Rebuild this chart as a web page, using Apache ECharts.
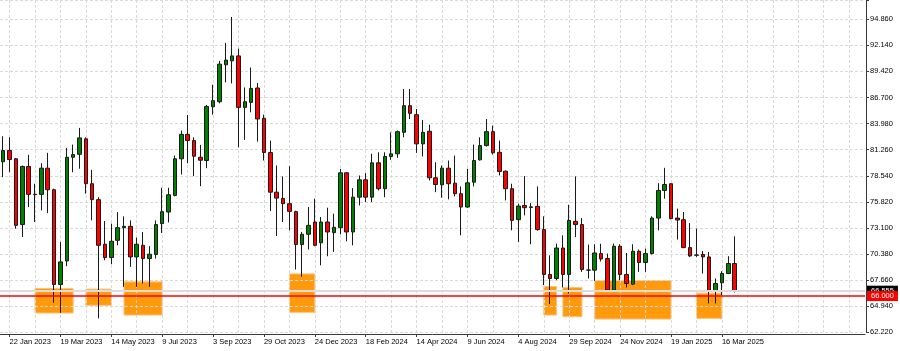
<!DOCTYPE html>
<html><head><meta charset="utf-8">
<script src="https://cdn.jsdelivr.net/npm/echarts@6/dist/echarts.min.js"></script>
<style>html,body{margin:0;padding:0;background:#fff}#c{width:900px;height:351px}</style>
</head><body><div id="c"></div>
<script>
// Weekly candles from 15 Jan 2023 to 30 Mar 2025, plus empty future weeks
const firstWeekUTC = Date.UTC(2023, 0, 15);
const weekCount = 136;
const monthNames = ['Jan','Feb','Mar','Apr','May','Jun','Jul','Aug','Sep','Oct','Nov','Dec'];

const opens = [
80.00,81.17,80.31,73.45,79.51,76.62,76.60,79.33,77.08,67.21,
69.66,80.47,80.78,82.39,77.71,76.05,71.40,70.01,71.81,73.13,
73.27,70.08,71.29,69.91,70.33,73.55,74.76,76.49,80.31,82.86,
82.21,80.47,80.13,85.74,86.26,90.11,90.52,91.04,85.67,86.19,
87.69,84.53,80.96,76.83,76.18,75.63,74.80,71.37,72.44,73.72,
71.55,73.72,72.61,73.13,78.85,72.68,76.31,78.12,76.31,79.89,
77.19,80.55,80.83,83.07,85.85,84.91,81.87,83.18,78.33,77.60,
79.33,77.77,76.67,75.28,77.87,80.20,81.69,83.14,80.99,79.02,
77.19,73.96,75.45,75.24,75.35,72.93,68.25,67.83,71.01,68.25,
73.79,73.45,68.72,68.70,70.43,69.91,66.62,71.19,68.25,67.24,
70.67,69.50,70.43,74.13,77.01,77.71,74.13,73.96,71.05,70.29,
70.33,70.08,66.51,67.38,68.35,69.39];
const closes = [
81.17,80.23,73.37,79.51,76.60,76.58,79.33,77.08,67.21,69.56,
80.47,80.75,82.49,77.71,76.05,71.29,70.01,71.71,73.13,73.27,
70.08,71.40,69.91,70.36,73.45,74.80,76.56,80.31,82.86,82.21,
80.58,80.16,85.77,86.37,90.18,90.60,91.04,85.67,86.26,87.65,
84.46,80.96,76.83,76.21,75.63,74.83,71.37,72.44,73.37,71.29,
73.72,72.68,73.17,78.85,72.68,76.31,78.12,76.31,79.89,77.19,
80.55,80.83,83.14,85.85,85.05,81.87,83.07,78.33,77.63,79.33,
77.71,76.67,75.28,77.81,80.13,81.69,83.14,80.93,78.99,77.19,
73.89,75.38,75.21,75.30,72.93,68.25,67.83,71.01,68.25,73.89,
73.45,68.77,68.70,70.49,69.87,66.62,71.19,68.25,67.31,70.67,
69.50,70.43,74.13,77.01,77.63,74.07,73.93,71.05,70.18,70.25,
70.08,66.51,67.31,68.35,69.39,66.555];
const lows = [
78.39,78.91,73.03,72.15,75.27,73.72,74.93,74.65,65.30,64.25,
69.11,78.91,79.27,76.67,73.89,63.67,69.74,69.32,71.29,66.96,
69.04,66.96,67.31,66.96,69.91,72.57,73.68,76.39,78.67,79.85,
78.50,77.46,79.33,84.91,86.09,88.27,88.17,81.51,82.28,85.15,
82.10,80.13,74.86,72.26,73.72,72.85,68.77,68.00,70.85,71.19,
69.21,70.15,70.60,72.44,71.71,71.29,75.45,75.80,75.80,77.01,
76.31,80.20,80.41,82.55,84.46,80.93,80.55,78.05,76.83,76.25,
76.08,76.39,72.33,75.20,77.43,80.13,81.59,80.75,78.57,75.97,
72.85,71.64,74.41,71.40,72.80,67.14,65.16,67.66,66.90,66.27,
72.15,68.52,67.83,67.58,69.60,66.44,66.55,67.66,66.90,67.14,
68.52,68.52,70.33,72.85,76.15,74.00,71.89,71.00,70.08,70.08,
68.35,65.23,65.23,66.10,68.28,66.37];
const highs = [
82.66,82.55,80.40,79.60,80.72,77.71,79.85,80.93,77.20,71.64,
81.45,81.79,83.53,82.55,79.16,76.31,73.82,73.55,74.75,74.31,
73.89,72.09,72.68,71.20,73.89,77.29,77.29,80.65,83.25,84.88,
82.55,81.76,85.92,88.03,90.52,92.40,95.10,91.80,87.75,89.83,
88.21,84.91,82.21,79.61,78.47,79.54,74.90,72.68,75.28,76.15,
74.24,75.21,74.59,79.26,78.91,77.25,78.57,78.81,80.83,80.99,
80.99,83.07,83.25,87.58,87.58,85.50,84.36,83.87,79.95,79.61,
80.13,80.65,77.43,79.27,81.79,82.55,84.46,83.77,82.21,79.09,
77.71,75.63,78.50,75.69,77.43,74.31,70.25,71.47,72.33,75.52,
78.47,74.13,71.37,71.40,71.45,70.43,71.47,71.40,70.49,71.40,
70.85,70.95,74.31,77.77,79.37,77.77,75.11,74.76,73.61,73.03,
70.70,70.60,67.83,68.59,70.15,72.23];

const dateLabels = ['22 Jan 2023','19 Mar 2023','14 May 2023','9 Jul 2023','3 Sep 2023','29 Oct 2023',
  '24 Dec 2023','18 Feb 2024','14 Apr 2024','9 Jun 2024','4 Aug 2024','29 Sep 2024','24 Nov 2024',
  '19 Jan 2025','16 Mar 2025'];
const priceTicks = [62.22,64.94,67.66,70.38,73.10,75.82,78.54,81.26,83.98,86.70,89.42,92.14,94.86];

// Orange zones
const zoneStart = ['19 Feb 2023','16 Apr 2023','28 May 2023','26 Nov 2023','1 Sep 2024','22 Sep 2024','27 Oct 2024','16 Feb 2025'];
const zoneEnd   = ['2 Apr 2023','14 May 2023','9 Jul 2023','24 Dec 2023','15 Sep 2024','13 Oct 2024','19 Jan 2025','16 Mar 2025'];
const zoneTop   = [66.79,66.72,67.48,68.31,67.00,66.90,67.62,66.30];
const zoneBottom= [64.23,65.03,64.02,64.30,64.02,63.84,63.60,63.67];

const levelPrice = 66.000;
const bidPrice = 66.555;

const categories = [];
for (let i = 0; i < weekCount; i++) {
  const d = new Date(firstWeekUTC + i * 7 * 86400000);
  categories.push(d.getUTCDate() + ' ' + monthNames[d.getUTCMonth()] + ' ' + d.getUTCFullYear());
}
const candleData = opens.map((o, i) => [o, closes[i], lows[i], highs[i]]);
const zoneData = zoneStart.map((s, i) => [
  {xAxis: s, yAxis: zoneTop[i]},
  {xAxis: zoneEnd[i], yAxis: zoneBottom[i]}
]);

const FONT = 'Liberation Sans';
const axisColor = '#3a3a3a';
const gridStyle = {color: '#d9d9d9', type: [3, 2], width: 1};

const chart = echarts.init(document.getElementById('c'), null, {renderer: 'canvas'});
chart.setOption({
  animation: false,
  backgroundColor: '#ffffff',
  grid: {left: 0, right: 35, top: -1, bottom: 18.7, containLabel: false},
  xAxis: {
    type: 'category', data: categories, boundaryGap: true, offset: 1.7, z: 1.5,
    axisLine: {show: true, lineStyle: {color: axisColor, width: 1}},
    axisTick: {show: true, alignWithLabel: true, length: 3, lineStyle: {color: axisColor},
      interval: (i, v) => dateLabels.indexOf(v) >= 0},
    axisLabel: {show: true, interval: (i, v) => dateLabels.indexOf(v) >= 0, align: 'left',
      fontSize: 7.5, fontFamily: FONT, color: '#000', margin: 4,
      formatter: v => dateLabels.indexOf(v) >= 0 ? v : ''},
    splitLine: {show: true, alignWithLabel: true, interval: (i) => i % 4 === 1, lineStyle: gridStyle}
  },
  yAxis: {
    type: 'value', position: 'right', min: 62.22, max: 96.866, interval: 2.72, offset: 1, z: 1.5,
    axisLine: {show: true, lineStyle: {color: axisColor, width: 1}},
    axisTick: {show: true, length: 3, lineStyle: {color: axisColor}},
    axisLabel: {fontSize: 7.5, fontFamily: FONT, color: '#000', margin: 4,
      formatter: v => priceTicks.some(t => Math.abs(t - v) < 0.005) ? v.toFixed(3) : ''},
    splitLine: {show: true, lineStyle: gridStyle}
  },
  series: [{
    type: 'candlestick',
    data: candleData,
    barWidth: 4,
    z: 2,
    silent: true,
    itemStyle: {color: '#008000', color0: '#ff0000', borderColor: '#1a1a1a', borderColor0: '#1a1a1a', borderWidth: 1},
    markArea: {
      silent: true, z: 1,
      itemStyle: {color: '#ff9a0c', borderColor: '#ffc27a', borderWidth: 1},
      data: zoneData
    },
    markLine: {
      silent: true, z: 5, symbol: ['none', 'none'], animation: false,
      data: [
        {yAxis: bidPrice, lineStyle: {color: '#dcdcdc', width: 2, type: 'solid'},
          label: {show: true, position: 'end', distance: 2, formatter: bidPrice.toFixed(3),
            color: '#fff', backgroundColor: '#000', padding: [1, 4, 1, 4], fontSize: 7.5, fontFamily: FONT}},
        {yAxis: levelPrice, lineStyle: {color: '#ff0000', width: 1.5, type: 'solid'},
          label: {show: true, position: 'end', distance: 2, formatter: levelPrice.toFixed(3),
            color: '#fff', backgroundColor: '#ff0000', padding: [1, 4, 1, 4], fontSize: 7.5, fontFamily: FONT}}
      ]
    }
  }]
});
</script></body></html>
